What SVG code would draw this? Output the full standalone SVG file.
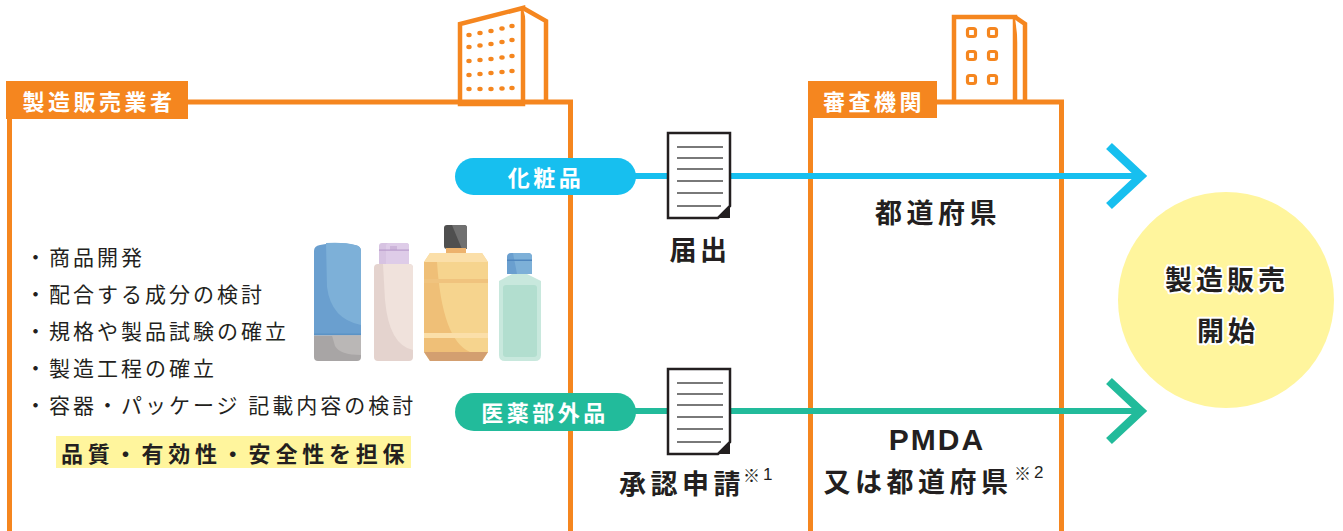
<svg xmlns="http://www.w3.org/2000/svg" width="1343" height="531" viewBox="0 0 1343 531">
  <defs>
    <style>
      .frame { fill: none; stroke: #F5861F; stroke-width: 5; }
      .bld { fill: #fff; stroke: #F5861F; stroke-width: 4.5; stroke-linejoin: miter; }
      .dot { fill: #F5861F; }
      .win { fill: none; stroke: #F5861F; stroke-width: 3.2; }
      .tag { fill: #F5861F; }
      .tagtxt { font-family: "Noto Sans CJK JP", sans-serif; font-weight: 700; font-size: 22px; letter-spacing: 3.5px; fill: #fff; text-anchor: middle; dominant-baseline: central; }
      .pilltxt { font-family: "Noto Sans CJK JP", sans-serif; font-weight: 700; font-size: 22px; letter-spacing: 3.5px; fill: #fff; text-anchor: middle; dominant-baseline: central; }
      .item { font-family: "Noto Sans CJK JP", sans-serif; font-weight: 400; font-size: 21px; letter-spacing: 3px; fill: #231F20; dominant-baseline: central; }
      .hl { font-family: "Noto Sans CJK JP", sans-serif; font-weight: 700; font-size: 22px; letter-spacing: 4.8px; fill: #231F20; dominant-baseline: central; }
      .big { font-family: "Noto Sans CJK JP", sans-serif; font-weight: 700; font-size: 27px; letter-spacing: 3.5px; fill: #231F20; text-anchor: middle; dominant-baseline: central; }
      .wide { letter-spacing: 4.5px; }
      .sup { font-family: "Noto Sans CJK JP", sans-serif; font-weight: 400; font-size: 17px; fill: #231F20; dominant-baseline: central; }
      .latin { font-family: "Liberation Sans", Arial, sans-serif; font-weight: 700; font-size: 30px; letter-spacing: 2px; fill: #231F20; text-anchor: middle; }
      .goal { font-family: "Noto Sans CJK JP", sans-serif; font-weight: 700; font-size: 27px; letter-spacing: 4px; fill: #231F20; text-anchor: middle; dominant-baseline: central; stroke: #fff; stroke-width: 4; paint-order: stroke; stroke-linejoin: round; }
      .doc { fill: #fff; stroke: #231F20; stroke-width: 2.5; }
      .docline { stroke: #4D4D4D; stroke-width: 1.6; }
      .blue { stroke: #17BFEF; }
      .teal { stroke: #22BB9B; }
      .flow { fill: none; stroke-width: 6; }
      .head { fill: none; stroke-width: 8.5; stroke-linejoin: miter; stroke-linecap: butt; }
    </style>
  </defs>

  <!-- manufacturer / distributor -->
  <g id="maker">
    <!-- office tower -->
    <g id="maker-building">
      <path class="bld" d="M460,104 V24 L523,8 V104 Z"/>
      <path class="bld" d="M523,8 L546,21 V104"/>
      <g class="dot">
        <ellipse cx="469" cy="35" rx="2.7" ry="2.2"/><ellipse cx="480" cy="33" rx="2.7" ry="2.2"/><ellipse cx="491" cy="31" rx="2.7" ry="2.2"/><ellipse cx="502" cy="28.5" rx="2.7" ry="2.2"/><ellipse cx="512" cy="26" rx="2.7" ry="2.2"/>
        <ellipse cx="469" cy="47" rx="2.7" ry="2.2"/><ellipse cx="480" cy="45.5" rx="2.7" ry="2.2"/><ellipse cx="491" cy="44" rx="2.7" ry="2.2"/><ellipse cx="502" cy="42" rx="2.7" ry="2.2"/><ellipse cx="512" cy="40" rx="2.7" ry="2.2"/>
        <ellipse cx="469" cy="61" rx="2.7" ry="2.2"/><ellipse cx="480" cy="60" rx="2.7" ry="2.2"/><ellipse cx="491" cy="59" rx="2.7" ry="2.2"/><ellipse cx="502" cy="57.5" rx="2.7" ry="2.2"/><ellipse cx="512" cy="56" rx="2.7" ry="2.2"/>
        <ellipse cx="469" cy="75" rx="2.7" ry="2.2"/><ellipse cx="480" cy="74" rx="2.7" ry="2.2"/><ellipse cx="491" cy="73" rx="2.7" ry="2.2"/><ellipse cx="502" cy="72" rx="2.7" ry="2.2"/><ellipse cx="512" cy="71" rx="2.7" ry="2.2"/>
        <ellipse cx="469" cy="89" rx="2.7" ry="2.2"/><ellipse cx="480" cy="89" rx="2.7" ry="2.2"/><ellipse cx="491" cy="89" rx="2.7" ry="2.2"/><ellipse cx="502" cy="88.5" rx="2.7" ry="2.2"/><ellipse cx="512" cy="88" rx="2.7" ry="2.2"/>
      </g>
    </g>
    <path class="frame" d="M9.5,531 V102 H570.5 V531"/>
    <rect class="tag" x="6" y="81" width="182" height="38"/>
    <text class="tagtxt" x="99" y="100">製造販売業者</text>

    <!-- tasks -->
    <g id="maker-tasks">
      <text class="item" x="25" y="256">・商品開発</text>
      <text class="item" x="25" y="293">・配合する成分の検討</text>
      <text class="item" x="25" y="330">・規格や製品試験の確立</text>
      <text class="item" x="25" y="367">・製造工程の確立</text>
      <text class="item" x="25" y="404">・容器・パッケージ 記載内容の検討</text>
    </g>
    <rect x="56" y="436" width="355" height="32" fill="#FFF59D"/>
    <text class="hl" x="61" y="452">品質・有効性・安全性を担保</text>

    <!-- product bottles -->
    <g id="bottles">
      <!-- tube bottle -->
      <path d="M314,335 V251 Q314,246 320,245 Q337,241 355,245 Q361,246 361,251 V335 Z" fill="#6A9FCF"/>
      <path d="M326,243 Q345,242 355,245 Q361,246 361,251 V325 Q331,319 327,287 Z" fill="#7DB0D8"/>
      <rect x="314" y="333.5" width="47" height="2" fill="#5B93C6"/>
      <path d="M314,335.5 H361 V357 Q361,361 357,361 H318 Q314,361 314,357 Z" fill="#A8A5A5"/>
      <path d="M332,335.5 H361 V355 Q340,355 335,346 Z" fill="#BAB7B6"/>
      <!-- pink bottle -->
      <rect x="379" y="243" width="30" height="23" rx="3" fill="#D7C3E2"/>
      <rect x="386" y="243" width="23" height="23" rx="3" fill="#DECCE8"/>
      <rect x="390" y="246" width="7" height="4" fill="#CDB5DA"/>
      <rect x="379" y="249.5" width="30" height="1.2" fill="#B89BCB"/>
      <rect x="374" y="264" width="39" height="97" rx="4" fill="#E4D3CE"/>
      <path d="M383,264 H409 Q413,264 413,268 V350 Q389,345 385,300 Z" fill="#F0E2DC"/>
      <!-- mouthwash bottle -->
      <rect x="444" y="225" width="23" height="24" rx="3" fill="#4F4F4F"/>
      <path d="M452,225 H464 Q467,225 467,228 V249 H462 Q456,235 452,225 Z" fill="#707070"/>
      <rect x="446" y="248" width="20" height="6" fill="#EDB26D"/>
      <path d="M430,253 H482 L488,262 V352 L482,361 H430 L424,352 V262 Z" fill="#F6D48E"/>
      <path d="M424,262 V352 H470 Q442,340 437,262 Z" fill="#EFBF77"/>
      <path d="M430,253 H482 L488,262 H424 Z" fill="#FBDFA9"/>
      <rect x="424" y="279" width="64" height="4" fill="#F0C37E"/>
      <rect x="424" y="333" width="64" height="5" fill="#FBDFA9"/>
      <path d="M424,352 H488 L482,361 H430 Z" fill="#D39F70"/>
      <!-- small bottle -->
      <path d="M507,257 Q507,253 511,253 H528 Q532,253 532,257 V274 H507 Z" fill="#6A9FCF"/>
      <path d="M513,253 H528 Q532,253 532,257 V274 H517 Z" fill="#7DB0D8"/>
      <rect x="507" y="259.5" width="25" height="1.5" fill="#4F86BE"/>
      <path d="M512,274 H527 L541,281 V355 Q541,361 535,361 H505 Q499,361 499,355 V281 Z" fill="#C8E8DD"/>
      <rect x="503" y="285" width="34" height="72" rx="3" fill="#B2DECF"/>
    </g>
  </g>

  <!-- reviewing body -->
  <g id="reviewer">
    <g id="reviewer-building">
      <path class="bld" d="M954,104 V17 H1015 V104"/>
      <path class="bld" d="M1015,17 L1025,24 V104"/>
      <g class="win">
        <rect x="967.5" y="28.5" width="8" height="8" rx="2"/><rect x="988.5" y="28.5" width="8" height="8" rx="2"/>
        <rect x="967.5" y="51.5" width="8" height="8" rx="2"/><rect x="988.5" y="51.5" width="8" height="8" rx="2"/>
        <rect x="967.5" y="75.5" width="8" height="8" rx="2"/><rect x="988.5" y="75.5" width="8" height="8" rx="2"/>
      </g>
    </g>
    <path class="frame" d="M810.5,531 V102 H1061.5 V531"/>
    <rect class="tag" x="808" y="81" width="129" height="37"/>
    <text class="tagtxt" x="874" y="100">審査機関</text>
  </g>

  <!-- flows -->
  <g id="connectors">
    <line class="flow blue" x1="630" y1="176" x2="1142" y2="176"/>
    <polyline class="head blue" points="1109,146 1141,176 1109,206"/>
    <line class="flow teal" x1="630" y1="411" x2="1142" y2="411"/>
    <polyline class="head teal" points="1109,381 1141,411 1109,441"/>
  </g>

  <!-- cosmetics route -->
  <g id="cosmetics">
    <rect x="455" y="158" width="181" height="37" rx="18.5" fill="#17BFEF"/>
    <text class="pilltxt" x="546" y="176">化粧品</text>
  </g>
  <g id="notification">
    <path class="doc" d="M668,133 H730 V206 L718,218 H668 Z"/>
    <path d="M730,206 V218 H718 Z" fill="#231F20"/>
    <g class="docline">
      <line x1="677" y1="147" x2="723" y2="147"/><line x1="677" y1="158" x2="723" y2="158"/>
      <line x1="677" y1="169" x2="723" y2="169"/><line x1="677" y1="181" x2="723" y2="181"/>
      <line x1="677" y1="193" x2="723" y2="193"/><line x1="677" y1="206" x2="721" y2="206"/>
    </g>
    <text class="big" x="700" y="248">届出</text>
  </g>
  <text class="big wide" x="938" y="211">都道府県</text>

  <!-- quasi-drug route -->
  <g id="quasi-drugs">
    <rect x="455" y="393" width="181" height="38" rx="19" fill="#22BB9B"/>
    <text class="pilltxt" x="545" y="411">医薬部外品</text>
  </g>
  <g id="approval">
    <path class="doc" d="M668,369 H730 V442 L718,454 H668 Z"/>
    <path d="M730,442 V454 H718 Z" fill="#231F20"/>
    <g class="docline">
      <line x1="677" y1="383" x2="723" y2="383"/><line x1="677" y1="394" x2="723" y2="394"/>
      <line x1="677" y1="405" x2="723" y2="405"/><line x1="677" y1="417" x2="723" y2="417"/>
      <line x1="677" y1="429" x2="723" y2="429"/><line x1="677" y1="442" x2="721" y2="442"/>
    </g>
    <text class="big wide" x="682" y="482">承認申請</text>
    <text class="sup" x="743" y="474">※<tspan font-family="Liberation Sans, Arial, sans-serif" dx="3">1</tspan></text>
  </g>
  <text class="latin" x="937" y="450">PMDA</text>
  <text class="big wide" x="918" y="480">又は都道府県</text>
  <text class="sup" x="1014" y="472">※<tspan font-family="Liberation Sans, Arial, sans-serif" dx="3">2</tspan></text>

  <!-- launch -->
  <g id="launch">
    <circle cx="1226" cy="300" r="108" fill="#FFF59D"/>
    <text class="goal" x="1227" y="278">製造販売</text>
    <text class="goal" x="1228" y="329">開始</text>
  </g>
</svg>
